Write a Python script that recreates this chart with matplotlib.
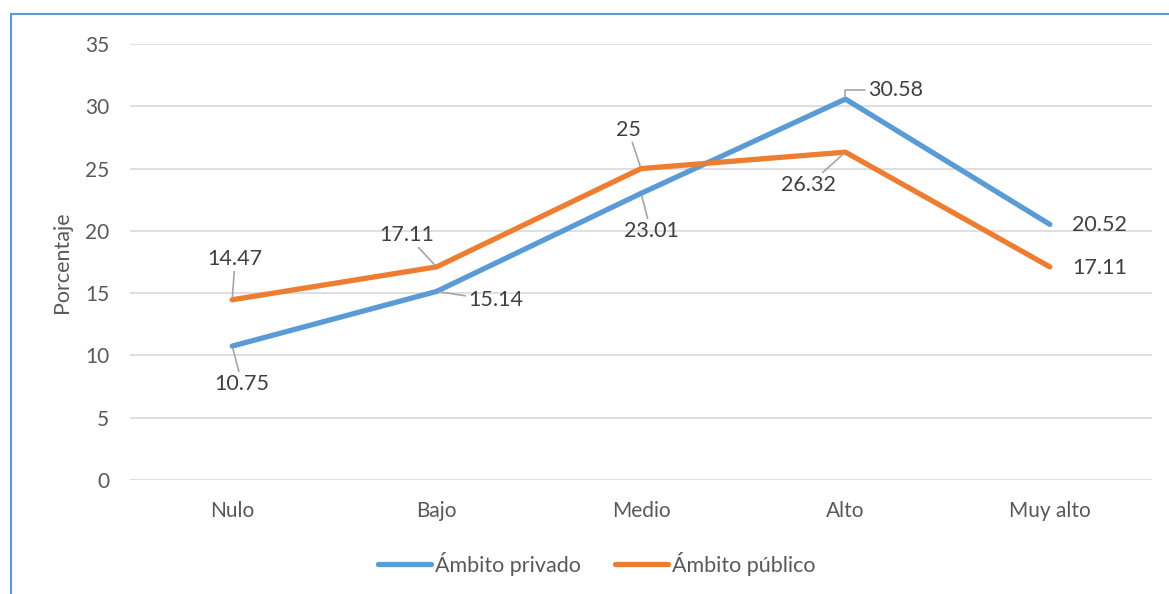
import matplotlib.pyplot as plt
from matplotlib.lines import Line2D

# Data
categories = ["Nulo", "Bajo", "Medio", "Alto", "Muy alto"]
privado = [10.75, 15.14, 23.01, 30.58, 20.52]
publico = [14.47, 17.11, 25, 26.32, 17.11]
privado_labels = ["10.75", "15.14", "23.01", "30.58", "20.52"]
publico_labels = ["14.47", "17.11", "25", "26.32", "17.11"]

# label offsets (pixels) and leader style (None = no leader line)
privado_offsets = [(10, -38), (59, -9), (10, -38), (50, 9), (50, -1)]
publico_offsets = [(3, 41), (-30, 32), (-13, 39), (-37, -33), (50, -1)]
privado_leader = ["arc3", "arc3", "arc3", "angle,angleA=0,angleB=90,rad=0", None]
publico_leader = ["arc3", "arc3", "arc3", "arc3", None]

blue = "#5B9BD5"
orange = "#ED7D31"
txt = "#404040"

plt.rcParams["font.family"] = ["Lato", "DejaVu Sans"]

fig = plt.figure(figsize=(11.69, 5.94), dpi=100)
ax = fig.add_axes([0.1112, 0.1919, 0.8743, 0.734])

x = list(range(len(categories)))
ax.plot(x, privado, color=blue, lw=3.8, solid_capstyle="round", label="Ámbito privado", zorder=3)
ax.plot(x, publico, color=orange, lw=3.8, solid_capstyle="round", label="Ámbito público", zorder=3)

def add_labels(vals, labels, offsets, leader):
    for i, (v, lab, off, conn) in enumerate(zip(vals, labels, offsets, leader)):
        props = None
        if conn:
            props = dict(arrowstyle="-", color="#A6A6A6", lw=1.2,
                         shrinkA=0, shrinkB=2, connectionstyle=conn)
        ax.annotate(lab, (i, v), xytext=off, textcoords="offset pixels",
                    ha="center", va="center", fontsize=15.5, color=txt,
                    arrowprops=props, zorder=4)

add_labels(privado, privado_labels, privado_offsets, privado_leader)
add_labels(publico, publico_labels, publico_offsets, publico_leader)

ax.set_xlim(-0.5, 4.5)
ax.set_ylim(0, 35)
ax.set_yticks(range(0, 36, 5))
ax.set_xticks(x)
ax.set_xticklabels(categories)
ax.grid(axis="y", color="#D9D9D9", lw=1.2)
ax.set_axisbelow(True)
for s in ax.spines.values():
    s.set_visible(False)
ax.tick_params(axis="both", length=0, labelsize=15, labelcolor="#595959")
ax.tick_params(axis="y", pad=15)
ax.tick_params(axis="x", pad=15)
ax.set_ylabel("Porcentaje", fontsize=15.5, color="#595959", labelpad=9)

ax.legend(loc="center", bbox_to_anchor=(597 / 1169, 1 - 564 / 594),
          bbox_transform=fig.transFigure, ncol=2, frameon=False,
          fontsize=15.5, labelcolor="#595959", handlelength=2.45,
          handletextpad=0.2, columnspacing=1.6)

# chart border (only top and left visible)
fig.add_artist(Line2D([11 / 1169, 1], [1 - 14 / 594, 1 - 14 / 594],
                      transform=fig.transFigure, color=blue, lw=1.5))
fig.add_artist(Line2D([11 / 1169, 11 / 1169], [0, 1 - 14 / 594],
                      transform=fig.transFigure, color=blue, lw=1.5))

plt.savefig("out.png", dpi=100)
